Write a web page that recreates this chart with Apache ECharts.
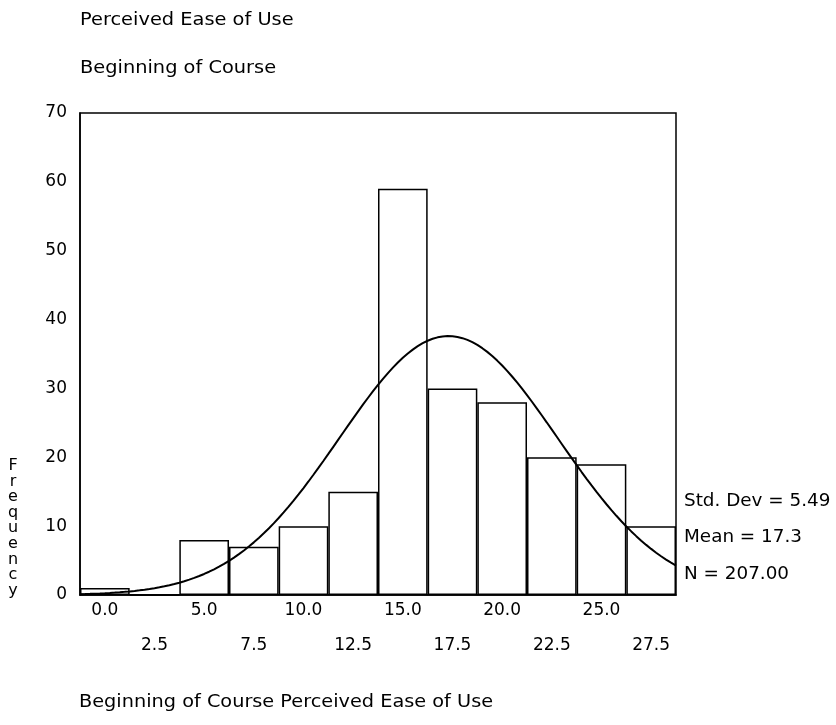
<!DOCTYPE html>
<html>
<head>
<meta charset="utf-8">
<script src="https://cdn.jsdelivr.net/npm/echarts@6/dist/echarts.min.js"></script>
<style>
html,body{margin:0;padding:0;background:#fff;}
#chart{width:836px;height:725px;}
</style>
</head>
<body>
<div id="chart"></div>
<script>
// Bin midpoints (tick labels) and frequencies
const binLabels = ['0.0','2.5','5.0','7.5','10.0','12.5','15.0','17.5','20.0','22.5','25.0','27.5'];
const binMids = [0, 2.5, 5, 7.5, 10, 12.5, 15, 17.5, 20, 22.5, 25, 27.5];
const frequencies = [1, 0, 8, 7, 10, 15, 59, 30, 28, 20, 19, 10];
const yTicks = [0, 10, 20, 30, 40, 50, 60, 70];

// Stated statistics of the fitted normal curve
const stdDev = 5.49;
const mean = 17.3;
const nCases = 207;
const binWidth = 2.5;

const titleTop = 'Perceived Ease of Use';
const titleSub = 'Beginning of Course';
const xTitle = 'Beginning of Course Perceived Ease of Use';
const yTitle = 'Frequency';
const statLines = ['Std. Dev = ' + stdDev.toFixed(2), 'Mean = ' + mean.toFixed(1), 'N = ' + nCases.toFixed(2)];

// Normal curve implied by the stated mean, SD and N
const xMin = binMids[0] - binWidth / 2;
const xMax = binMids[binMids.length - 1] + binWidth / 2;
const curve = [];
for (let i = 0; i <= 120; i++) {
  const x = xMin + (xMax - xMin) * i / 120;
  const z = (x - mean) / stdDev;
  const y = nCases * binWidth / (stdDev * Math.sqrt(2 * Math.PI)) * Math.exp(-0.5 * z * z);
  curve.push([x, y]);
}

const FONT = 'DejaVu Sans';
const chart = echarts.init(document.getElementById('chart'));
function txt(text, x, y, sx) {
  return {
    type: 'text', x: x, y: y, scaleX: sx,
    style: {text: text, fill: '#000', fontFamily: FONT, fontSize: 17,
      textAlign: 'left', textVerticalAlign: 'middle'}
  };
}
const graphics = [
  txt(titleTop, 80, 21, 1.14),
  txt(titleSub, 80, 69, 1.14),
  txt(xTitle, 79, 703, 1.135),
  txt(statLines[0], 684, 502, 1.08),
  txt(statLines[1], 684, 538, 1.08),
  txt(statLines[2], 684, 575, 1.08),
  {type: 'text', x: 13, y: 458, style: {text: yTitle.split('').join('\n'), fill: '#000',
    fontFamily: FONT, fontSize: 16, lineHeight: 15.6, textAlign: 'center', textVerticalAlign: 'top'}}
];

chart.setOption({
  animation: false,
  backgroundColor: '#fff',
  grid: {left: 80, right: 160, top: 113, bottom: 130, show: true, borderColor: '#000', borderWidth: 1.5, backgroundColor: 'transparent'},
  xAxis: [
    {type: 'category', data: binLabels, boundaryGap: true,
      axisLine: {show: true, onZero: false, lineStyle: {color: '#000', width: 1.5}},
      axisTick: {show: false}, splitLine: {show: false},
      axisLabel: {interval: 0, color: '#000', fontFamily: FONT, fontSize: 17, lineHeight: 35, margin: -2,
        formatter: function (v, i) { return i % 2 === 1 ? '\n' + v : v; }}},
    {type: 'value', min: xMin, max: xMax, show: false}
  ],
  yAxis: {type: 'value', min: yTicks[0], max: yTicks[yTicks.length - 1], interval: 10,
    axisLine: {show: true, onZero: false, lineStyle: {color: '#000', width: 1.5}},
    axisTick: {show: false}, splitLine: {show: false},
    axisLabel: {color: '#000', fontFamily: FONT, fontSize: 17, margin: 13, padding: [0, 0, 10, 0]}},
  series: [
    {type: 'bar', data: frequencies, barCategoryGap: '0%', xAxisIndex: 0,
      itemStyle: {color: '#fff', borderColor: '#000', borderWidth: 1.5}, silent: true},
    {type: 'line', data: curve, xAxisIndex: 1, showSymbol: false, smooth: false, z: 5,
      lineStyle: {color: '#000', width: 2}, silent: true}
  ],
  graphic: graphics
});
</script>
</body>
</html>
